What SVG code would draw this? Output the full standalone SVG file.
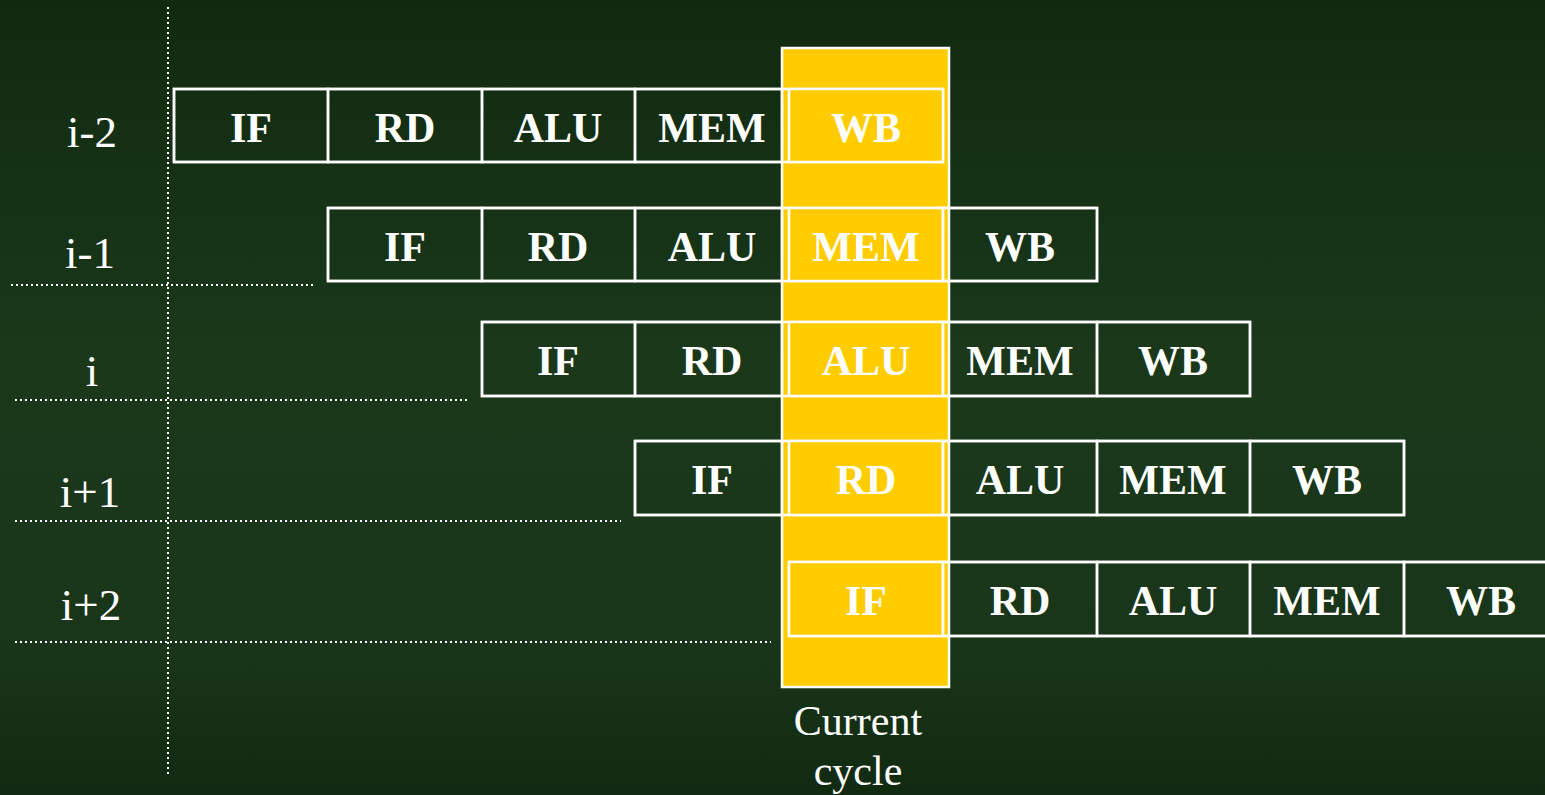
<svg xmlns="http://www.w3.org/2000/svg" width="1545" height="795" viewBox="0 0 1545 795">
<defs>
<linearGradient id="bg" x1="0" y1="0" x2="0" y2="1">
<stop offset="0" stop-color="#102a10"/>
<stop offset="0.45" stop-color="#1b381b"/>
<stop offset="0.8" stop-color="#1a361a"/>
<stop offset="1" stop-color="#112a11"/>
</linearGradient>
<style>
.cell{fill:none;stroke:#ffffff;stroke-width:2.5}
.hl{fill:#ffcc00;stroke:#ffffff;stroke-width:2.5}
.row{fill:none;stroke:#ffffff;stroke-width:2.5}
.st{font-family:"Liberation Serif","Times New Roman",serif;font-weight:bold;font-size:42px;fill:#ffffff;text-anchor:middle}
.lbl{font-family:"Liberation Serif","Times New Roman",serif;font-size:45px;fill:#ffffff;text-anchor:middle}
.cap{font-family:"Liberation Serif","Times New Roman",serif;font-size:42px;fill:#ffffff;text-anchor:middle}
.dot{stroke:#ffffff;stroke-width:2;stroke-linecap:butt;stroke-dasharray:2 3;fill:none}
</style>
</defs>
<rect x="0" y="0" width="1545" height="795" fill="url(#bg)"/>

<g id="connectors">
<line class="dot" x1="168" y1="7" x2="168" y2="777"/>
<line class="dot" x1="11" y1="285" x2="313" y2="285"/>
<line class="dot" x1="15" y1="400" x2="467" y2="400"/>
<line class="dot" x1="15" y1="521" x2="621" y2="521"/>
<line class="dot" x1="15" y1="642" x2="771" y2="642"/>
</g>

<g id="current-cycle">
<rect class="hl" x="782" y="48" width="167" height="639"/>
<text class="cap" x="858" y="735">Current</text>
<text class="cap" x="858" y="785">cycle</text>
</g>

<g id="labels">
<text class="lbl" x="92" y="147">i-2</text>
<text class="lbl" x="90" y="268">i-1</text>
<text class="lbl" x="92" y="386">i</text>
<text class="lbl" x="90" y="507">i+1</text>
<text class="lbl" x="91" y="620">i+2</text>
</g>

<g id="row-i-2">
<rect class="row" x="174" y="89" width="769" height="73"/>
<g id="r1-if"><rect class="cell" x="174" y="89" width="154" height="73"/><text class="st" x="251" y="142">IF</text></g>
<g id="r1-rd"><rect class="cell" x="328" y="89" width="154" height="73"/><text class="st" x="405" y="142">RD</text></g>
<g id="r1-alu"><rect class="cell" x="482" y="89" width="153" height="73"/><text class="st" x="558" y="142">ALU</text></g>
<g id="r1-mem"><rect class="cell" x="635" y="89" width="147" height="73"/><text class="st" x="712" y="142">MEM</text></g>
<g id="r1-wb"><rect class="hl" x="789" y="89" width="154" height="73"/><text class="st" x="866" y="142">WB</text></g>
</g>

<g id="row-i-1">
<rect class="row" x="328" y="208" width="769" height="73"/>
<g id="r2-if"><rect class="cell" x="328" y="208" width="154" height="73"/><text class="st" x="405" y="261">IF</text></g>
<g id="r2-rd"><rect class="cell" x="482" y="208" width="153" height="73"/><text class="st" x="558" y="261">RD</text></g>
<g id="r2-alu"><rect class="cell" x="635" y="208" width="147" height="73"/><text class="st" x="712" y="261">ALU</text></g>
<g id="r2-mem"><rect class="hl" x="789" y="208" width="154" height="73"/><text class="st" x="866" y="261">MEM</text></g>
<g id="r2-wb"><rect class="cell" x="943" y="208" width="154" height="73"/><text class="st" x="1020" y="261">WB</text></g>
</g>

<g id="row-i">
<rect class="row" x="482" y="322" width="768" height="74"/>
<g id="r3-if"><rect class="cell" x="482" y="322" width="153" height="74"/><text class="st" x="558" y="375">IF</text></g>
<g id="r3-rd"><rect class="cell" x="635" y="322" width="147" height="74"/><text class="st" x="712" y="375">RD</text></g>
<g id="r3-alu"><rect class="hl" x="789" y="322" width="154" height="74"/><text class="st" x="866" y="375">ALU</text></g>
<g id="r3-mem"><rect class="cell" x="943" y="322" width="154" height="74"/><text class="st" x="1020" y="375">MEM</text></g>
<g id="r3-wb"><rect class="cell" x="1097" y="322" width="153" height="74"/><text class="st" x="1173" y="375">WB</text></g>
</g>

<g id="row-i+1">
<rect class="row" x="635" y="441" width="769" height="74"/>
<g id="r4-if"><rect class="cell" x="635" y="441" width="147" height="74"/><text class="st" x="712" y="494">IF</text></g>
<g id="r4-rd"><rect class="hl" x="789" y="441" width="154" height="74"/><text class="st" x="866" y="494">RD</text></g>
<g id="r4-alu"><rect class="cell" x="943" y="441" width="154" height="74"/><text class="st" x="1020" y="494">ALU</text></g>
<g id="r4-mem"><rect class="cell" x="1097" y="441" width="153" height="74"/><text class="st" x="1173" y="494">MEM</text></g>
<g id="r4-wb"><rect class="cell" x="1250" y="441" width="154" height="74"/><text class="st" x="1327" y="494">WB</text></g>
</g>

<g id="row-i+2">
<rect class="row" x="789" y="562" width="769" height="74"/>
<g id="r5-if"><rect class="hl" x="789" y="562" width="154" height="74"/><text class="st" x="866" y="615">IF</text></g>
<g id="r5-rd"><rect class="cell" x="943" y="562" width="154" height="74"/><text class="st" x="1020" y="615">RD</text></g>
<g id="r5-alu"><rect class="cell" x="1097" y="562" width="153" height="74"/><text class="st" x="1173" y="615">ALU</text></g>
<g id="r5-mem"><rect class="cell" x="1250" y="562" width="154" height="74"/><text class="st" x="1327" y="615">MEM</text></g>
<g id="r5-wb"><rect class="cell" x="1404" y="562" width="154" height="74"/><text class="st" x="1481" y="615">WB</text></g>
</g>
</svg>
